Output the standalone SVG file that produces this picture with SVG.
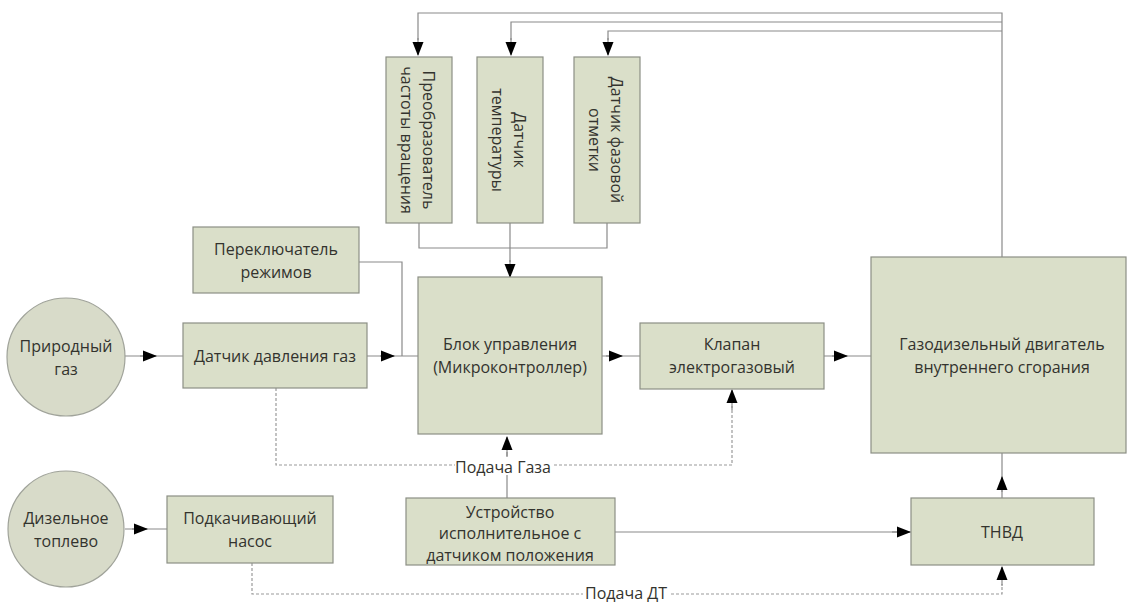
<svg xmlns="http://www.w3.org/2000/svg" width="1127" height="604" viewBox="0 0 1127 604">
<defs>
<marker id="arr" markerWidth="14" markerHeight="12" refX="13" refY="6" orient="auto" markerUnits="userSpaceOnUse">
<path d="M0,0.5 L14,6 L0,11.5 Z" fill="#000"/>
</marker>
<style>
.box{fill:#dadfc9;stroke:#8c8f85;stroke-width:1.2}
.circ{fill:#d8dbc9;stroke:#a0a39a;stroke-width:1.2}
.t{font-family:"Open Sans","Liberation Sans",sans-serif;font-size:16px;fill:#33332e;text-anchor:middle}
.c{fill:none;stroke:#8a8a8a;stroke-width:1.2}
.d{fill:none;stroke:#9a9a9a;stroke-width:1.2;stroke-dasharray:3,2}
.a{fill:none;stroke:#8a8a8a;stroke-width:1.2;marker-end:url(#arr)}
</style>
</defs>
<rect width="1127" height="604" fill="#fff"/>

<g id="connectors">
<path class="c" d="M1002,257 V13 H418 V40"/>
<path class="a" d="M418,38 V55"/>
<path class="c" d="M1002,22 H511 V40"/>
<path class="a" d="M511,38 V55"/>
<path class="c" d="M1002,31 H608 V40"/>
<path class="a" d="M608,38 V55"/>
<path class="c" d="M419,223 V248 H607 V223 M510,223 V262"/>
<path class="a" d="M510,260 V277"/>
<path class="c" d="M359,262 H402 V356"/>
<path class="c" d="M124,356 H183"/>
<path class="a" d="M140,356 H156"/>
<path class="c" d="M367,356 H418"/>
<path class="a" d="M380,356 H394"/>
<path class="c" d="M601,356 H640"/>
<path class="a" d="M606,356 H622"/>
<path class="c" d="M824,356 H871"/>
<path class="a" d="M832,356 H847"/>
<path class="d" d="M276,388 V465 H732 V406"/>
<path class="a" d="M732,410 V390"/>
<path class="c" d="M507,498 V452"/>
<path class="a" d="M507,456 V437"/>
<path class="c" d="M615,532 H911"/>
<path class="a" d="M892,532 H910"/>
<path class="c" d="M1002,498 V453"/>
<path class="a" d="M1002,492 V477"/>
<path class="c" d="M125,529 H167"/>
<path class="a" d="M132,529 H147"/>
<path class="d" d="M252,563 V594 H1002 V584"/>
<path class="a" d="M1002,586 V567"/>
</g>

<g id="conv-freq"><rect class="box" x="386" y="57" width="66" height="166"/>
<text class="t" transform="translate(419,140) rotate(90)"><tspan x="0" y="-4">Преобразователь</tspan><tspan x="0" y="18">частоты вращения</tspan></text></g>
<g id="temp"><rect class="box" x="477" y="57" width="66" height="166"/>
<text class="t" transform="translate(510,140) rotate(90)"><tspan x="0" y="-4">Датчик</tspan><tspan x="0" y="18">температуры</tspan></text></g>
<g id="phase"><rect class="box" x="574" y="57" width="66" height="166"/>
<text class="t" transform="translate(607,140) rotate(90)"><tspan x="0" y="-4">Датчик фазовой</tspan><tspan x="0" y="18">отметки</tspan></text></g>

<g id="switch"><rect class="box" x="193" y="227" width="166" height="66"/>
<text class="t"><tspan x="276" y="255">Переключатель</tspan><tspan x="276" y="278">режимов</tspan></text></g>

<g id="natural-gas"><circle class="circ" cx="66" cy="357" r="59"/>
<text class="t"><tspan x="66" y="352">Природный</tspan><tspan x="66" y="375">газ</tspan></text></g>

<g id="pressure"><rect class="box" x="183" y="323" width="184" height="65"/>
<text class="t" x="275" y="362">Датчик давления газ</text></g>

<g id="control"><rect class="box" x="418" y="277" width="184" height="157"/>
<text class="t"><tspan x="510" y="350">Блок управления</tspan><tspan x="510" y="373">(Микроконтроллер)</tspan></text></g>

<g id="valve"><rect class="box" x="640" y="323" width="184" height="66"/>
<text class="t"><tspan x="732" y="350">Клапан</tspan><tspan x="732" y="373">электрогазовый</tspan></text></g>

<g id="engine"><rect class="box" x="871" y="257" width="255" height="196"/>
<text class="t"><tspan x="1002" y="350">Газодизельный двигатель</tspan><tspan x="1002" y="373">внутреннего сгорания</tspan></text></g>

<g id="diesel"><circle class="circ" cx="66" cy="529" r="58"/>
<text class="t"><tspan x="66" y="524">Дизельное</tspan><tspan x="66" y="547">топлево</tspan></text></g>

<g id="pump"><rect class="box" x="167" y="496" width="166" height="67"/>
<text class="t"><tspan x="250" y="524">Подкачивающий</tspan><tspan x="250" y="547">насос</tspan></text></g>

<g id="actuator"><rect class="box" x="406" y="498" width="209" height="67"/>
<text class="t"><tspan x="510" y="518">Устройство</tspan><tspan x="510" y="539">исполнительное с</tspan><tspan x="510" y="561">датчиком положения</tspan></text></g>

<g id="tnvd"><rect class="box" x="911" y="498" width="183" height="67"/>
<text class="t" x="1002" y="538">ТНВД</text></g>

<g id="labels">
<rect x="455" y="457" width="97" height="18" fill="#fff"/>
<text class="t" x="503" y="473">Подача Газа</text>
<rect x="583" y="586" width="86" height="18" fill="#fff"/>
<text class="t" x="626" y="599">Подача ДТ</text>
</g>
</svg>
